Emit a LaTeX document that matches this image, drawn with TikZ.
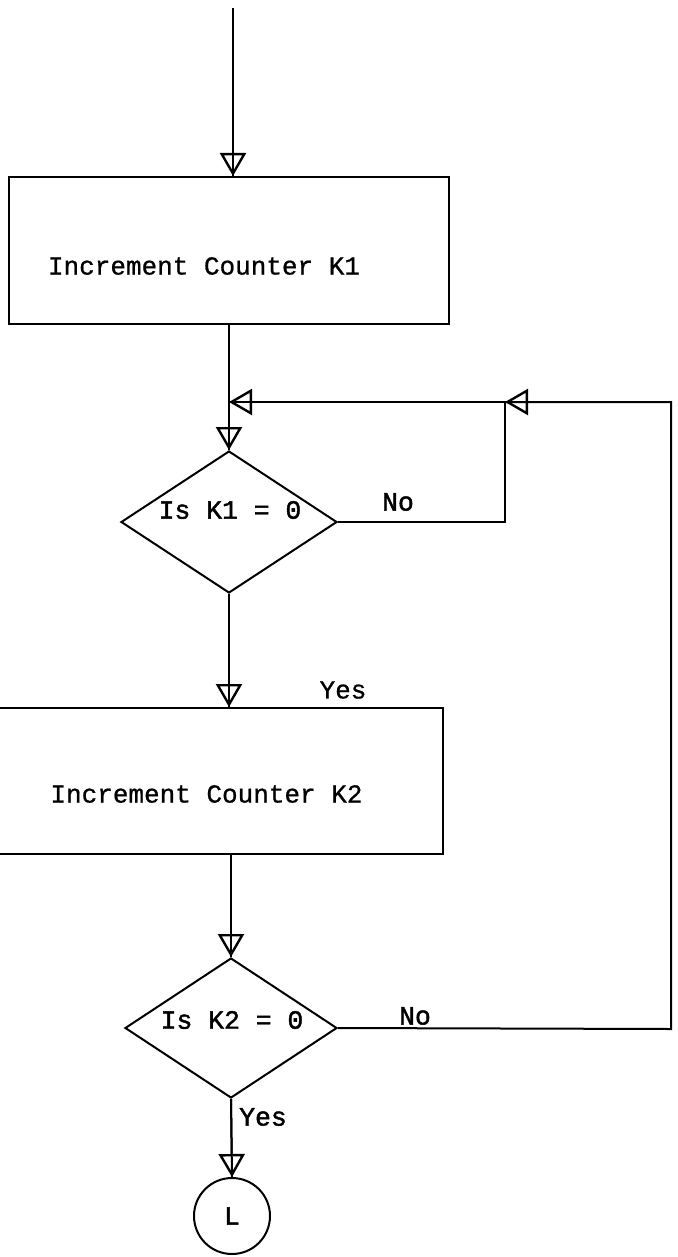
\documentclass[tikz,border=0pt]{standalone}
\usepackage{fontspec}
\setmonofont{Liberation Mono}
\newfontfamily\boxfont[FakeBold=0.8]{Liberation Mono}
\newfontfamily\labfont[FakeBold=1.6]{Liberation Mono}
\usetikzlibrary{arrows.meta,shapes.geometric}
\begin{document}
\begin{tikzpicture}[x=0.5pt,y=-0.5pt,
  ln/.style={line width=1pt},
  arr/.style={-{Triangle[open,length=11.5pt,width=13pt,line width=1.2pt]}},
  box/.style={draw,line width=1pt,rectangle,inner sep=0pt},
  dia/.style={draw,line width=1pt,diamond,inner sep=0pt,minimum width=108pt,minimum height=71pt},
  txt/.style={font=\boxfont\fontsize{13}{15}\selectfont,inner sep=0pt},
  lab/.style={font=\labfont\fontsize{13.2}{15}\selectfont,inner sep=0pt},
]
\useasboundingbox (0,0) rectangle (678,1257);

% shapes
\node[box,minimum width=220pt,minimum height=73.5pt] (b1) at (229,250.5) {};
\node[dia] (d1) at (229,522) {};
\node[box,minimum width=224pt,minimum height=73pt] (b2) at (219,781) {};
\node[dia,minimum width=106pt,minimum height=70pt] (d2) at (231,1028) {};
\node[draw,line width=1pt,circle,minimum size=38pt,inner sep=0pt,font=\labfont\fontsize{13.2}{15}\selectfont] (cL) at (232,1216) {L};

% texts
\node[txt] (t1) at (204,266) {Increment Counter K1};
\node[txt] (t2) at (206.5,794) {Increment Counter K2};
\node[lab] (q1) at (230,510) {Is K1 = 0};
\node[lab] (q2) at (232,1020) {Is K2 = 0};
\node[lab] (no1) at (398,502) {No};
\node[txt] (yes1) at (343,690) {Yes};
\node[lab] (no2) at (415,1016) {No};
\node[lab] (yes2) at (263,1117) {Yes};

% coordinates
\coordinate (start) at (233,8);
\coordinate (m1) at (229,402);
\coordinate (j1) at (505,402);
\coordinate (c1) at (505,522);
\coordinate (r1) at (671,1029);
\coordinate (r2) at (671,402);

% connectors
\draw[ln] (start) -- (start |- b1.north);
\draw[ln,arr] (start) -- (start |- b1.north);

\draw[ln] (b1.south) -- (d1.north);
\draw[ln,arr] (m1) -- (d1.north);

\draw[ln] (d1.east) -- (c1) -- (j1) -- (m1);
\draw[ln,arr] (j1) -- (m1);

\draw[ln] (d1.south) -- (d1.south |- b2.north);
\draw[ln,arr] (d1.south) -- (d1.south |- b2.north);

\draw[ln] (d2.north |- b2.south) -- (d2.north);
\draw[ln,arr] (d2.north |- b2.south) -- (d2.north);

\draw[ln] (d2.east) -- (r1) -- (r2) -- (j1);
\draw[ln,arr] (r2) -- (j1);

\draw[ln] (d2.south) -- (cL.north);
\draw[ln,arr] (d2.south) -- (cL.north);
\end{tikzpicture}
\end{document}
